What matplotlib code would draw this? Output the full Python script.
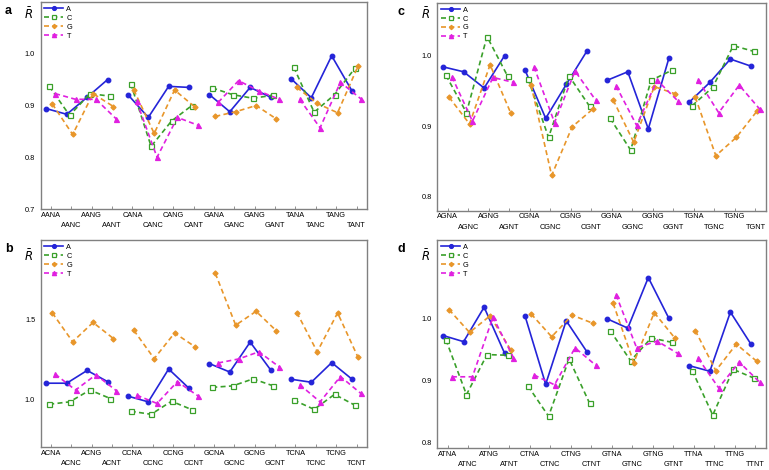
import matplotlib
matplotlib.use('Agg')
import matplotlib.pyplot as plt
import numpy as np

plt.rcParams['font.family'] = ['Liberation Sans', 'DejaVu Sans']

series_names = ['A', 'C', 'G', 'T']

labels_a = ['AANA', 'AANC', 'AANG', 'AANT', 'CANA', 'CANC', 'CANG', 'CANT',
            'GANA', 'GANC', 'GANG', 'GANT', 'TANA', 'TANC', 'TANG', 'TANT']
labels_b = ['ACNA', 'ACNC', 'ACNG', 'ACNT', 'CCNA', 'CCNC', 'CCNG', 'CCNT',
            'GCNA', 'GCNC', 'GCNG', 'GCNT', 'TCNA', 'TCNC', 'TCNG', 'TCNT']
labels_c = ['AGNA', 'AGNC', 'AGNG', 'AGNT', 'CGNA', 'CGNC', 'CGNG', 'CGNT',
            'GGNA', 'GGNC', 'GGNG', 'GGNT', 'TGNA', 'TGNC', 'TGNG', 'TGNT']
labels_d = ['ATNA', 'ATNC', 'ATNG', 'ATNT', 'CTNA', 'CTNC', 'CTNG', 'CTNT',
            'GTNA', 'GTNC', 'GTNG', 'GTNT', 'TTNA', 'TTNC', 'TTNG', 'TTNT']

a_A = [0.894, 0.883, 0.916, 0.950, 0.921, 0.877, 0.937, 0.935, 0.921, 0.888, 0.935, 0.916, 0.952, 0.915, 0.996, 0.928]
a_C = [0.937, 0.881, 0.923, 0.918, 0.942, 0.821, 0.870, 0.900, 0.934, 0.921, 0.914, 0.920, 0.974, 0.887, 0.921, 0.972]
a_G = [0.903, 0.844, 0.923, 0.898, 0.930, 0.846, 0.930, 0.897, 0.879, 0.888, 0.900, 0.874, 0.935, 0.904, 0.886, 0.976]
a_T = [0.923, 0.912, 0.912, 0.874, 0.908, 0.800, 0.877, 0.862, 0.906, 0.948, 0.928, 0.912, 0.912, 0.857, 0.945, 0.913]

b_A = [1.102, 1.102, 1.182, 1.112, 1.021, 0.985, 1.191, 1.070, 1.225, 1.172, 1.360, 1.186, 1.127, 1.108, 1.231, 1.127]
b_C = [0.970, 0.985, 1.059, 1.006, 0.926, 0.907, 0.989, 0.936, 1.076, 1.085, 1.129, 1.085, 0.996, 0.938, 1.032, 0.964]
b_G = [1.543, 1.362, 1.483, 1.382, 1.434, 1.256, 1.417, 1.331, 1.791, 1.466, 1.553, 1.430, 1.545, 1.299, 1.543, 1.265]
b_T = [1.159, 1.059, 1.155, 1.055, 1.027, 0.975, 1.112, 1.023, 1.229, 1.254, 1.299, 1.204, 1.093, 0.985, 1.144, 1.038]

c_A = [0.984, 0.977, 0.954, 1.000, 0.979, 0.911, 0.959, 1.006, 0.965, 0.977, 0.896, 0.996, 0.934, 0.962, 0.995, 0.985]
c_C = [0.972, 0.919, 1.027, 0.971, 0.967, 0.884, 0.971, 0.928, 0.911, 0.866, 0.965, 0.979, 0.929, 0.955, 1.014, 1.006]
c_G = [0.941, 0.903, 0.987, 0.919, 0.958, 0.830, 0.899, 0.924, 0.937, 0.877, 0.956, 0.946, 0.941, 0.858, 0.884, 0.921]
c_T = [0.970, 0.907, 0.969, 0.962, 0.984, 0.905, 0.978, 0.937, 0.957, 0.901, 0.965, 0.936, 0.965, 0.919, 0.958, 0.924]

d_A = [0.973, 0.963, 1.019, 0.944, 1.004, 0.894, 0.997, 0.947, 1.000, 0.985, 1.067, 1.001, 0.924, 0.915, 1.011, 0.959]
d_C = [0.966, 0.877, 0.942, 0.941, 0.891, 0.842, 0.935, 0.863, 0.981, 0.932, 0.969, 0.962, 0.916, 0.844, 0.918, 0.904]
d_G = [1.015, 0.978, 1.005, 0.950, 1.008, 0.971, 1.006, 0.993, 1.025, 0.929, 1.010, 0.969, 0.981, 0.916, 0.959, 0.931]
d_T = [0.906, 0.906, 1.003, 0.937, 0.909, 0.893, 0.953, 0.925, 1.039, 0.953, 0.964, 0.944, 0.936, 0.888, 0.930, 0.897]

panels = [
    dict(letter='a', labels=labels_a, data=[a_A, a_C, a_G, a_T], ylim=(0.7, 1.1),
         yticks=[0.7, 0.8, 0.9, 1.0], rect=[0.0529, 0.5553, 0.424, 0.4404]),
    dict(letter='b', labels=labels_b, data=[b_A, b_C, b_G, b_T], ylim=(0.7, 2.0),
         yticks=[1.0, 1.5], rect=[0.0529, 0.0483, 0.424, 0.441]),
    dict(letter='c', labels=labels_c, data=[c_A, c_C, c_G, c_T], ylim=(0.78, 1.075),
         yticks=[0.8, 0.9, 1.0], rect=[0.5687, 0.5517, 0.427, 0.4426]),
    dict(letter='d', labels=labels_d, data=[d_A, d_C, d_G, d_T], ylim=(0.79, 1.128),
         yticks=[0.8, 0.9, 1.0], rect=[0.5687, 0.0462, 0.427, 0.4432]),
]

colors = ['#2424d8', '#3aa02a', '#e8962a', '#e020e0']
markers = ['o', 's', 'D', '^']
mfc = ['#2424d8', 'white', '#e8962a', '#e020e0']
msizes = [3.3, 3.6, 2.6, 3.6]
offsets = [-0.22, -0.08, 0.07, 0.21]
lstyles = ['-', (0, (3, 2)), (0, (3, 2)), (0, (3, 2))]

fig = plt.figure(figsize=(7.69, 4.70), dpi=100)
spine_col = '#808080'
fs = 5.3

for p in panels:
    ax = fig.add_axes(p['rect'])
    x = np.arange(16)
    for si in range(4):
        vals = np.array(p['data'][si])
        for g in range(4):
            sl = slice(4 * g, 4 * g + 4)
            ax.plot(x[sl] + offsets[si], vals[sl], color=colors[si],
                    linestyle=lstyles[si], linewidth=1.2, marker=markers[si],
                    markersize=msizes[si], markerfacecolor=mfc[si],
                    markeredgecolor=colors[si], markeredgewidth=0.9,
                    label=series_names[si] if g == 0 else None)
    ax.set_xlim(-0.5, 15.5)
    ax.set_ylim(*p['ylim'])
    ax.set_yticks(p['yticks'])
    ax.set_yticklabels(['%.1f' % v for v in p['yticks']])
    even = x[0::2]
    odd = x[1::2]
    ax.set_xticks(even)
    ax.set_xticklabels(p['labels'][0::2])
    ax.set_xticks(odd, minor=True)
    ax.set_xticklabels(p['labels'][1::2], minor=True)
    ax.tick_params(axis='both', which='both', labelsize=fs, colors='black',
                   length=2, direction='in', width=0.6)
    ax.tick_params(axis='x', which='major', color=spine_col, pad=2)
    ax.tick_params(axis='x', which='minor', color=spine_col, pad=9.5)
    ax.tick_params(axis='y', length=0, pad=4)
    for s in ax.spines.values():
        s.set_color(spine_col)
        s.set_linewidth(1.0)
    ax.legend(loc='upper left', frameon=False, fontsize=fs,
              handlelength=2.6, handletextpad=0.4, labelspacing=0.25,
              borderaxespad=0.3, borderpad=0.2, markerscale=0.85)
    bb = p['rect']
    top_px = (1 - (bb[1] + bb[3])) * 470
    fig.text(5 / 769 if p['letter'] in 'ab' else 397 / 769,
             1 - (top_px + 9) / 470, p['letter'],
             fontsize=9, fontweight='bold', ha='left', va='center')
    ry = top_px + (12 if p['letter'] in 'ac' else 16)
    fig.text((bb[0] * 769 - 12) / 769, 1 - ry / 470, r'$\bar{\mathbf{\mathit{R}}}$',
             fontsize=8.5, ha='center', va='center')

fig.savefig('out.png', dpi=100)
